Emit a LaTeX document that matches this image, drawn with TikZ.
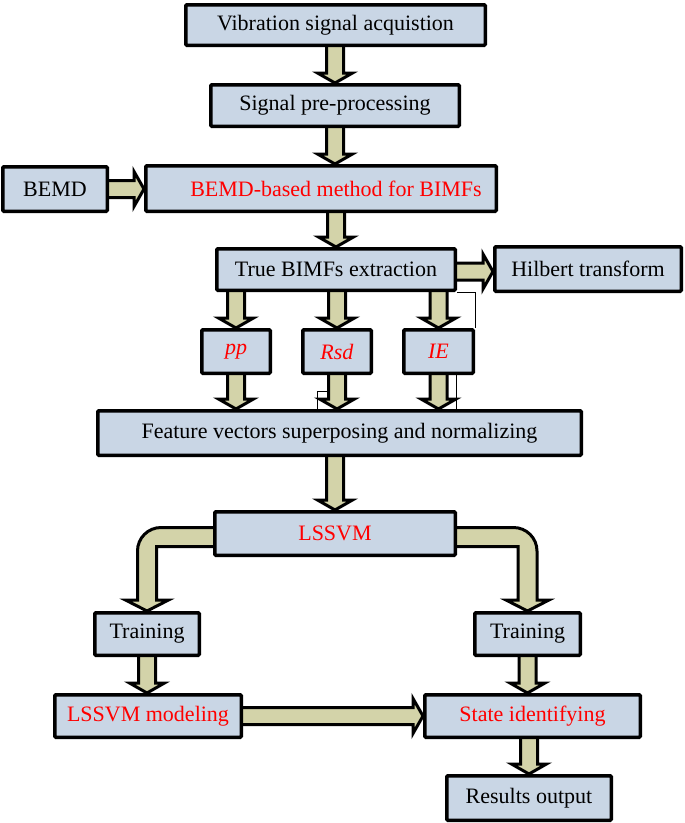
\documentclass[tikz,border=0pt]{standalone}
\usepackage{fontspec}
\setmainfont{Liberation Serif}
\usetikzlibrary{calc}
\definecolor{boxfill}{RGB}{201,214,229}
\definecolor{arrfill}{RGB}{211,211,169}
\pgfdeclarelayer{bg}
\pgfsetlayers{bg,main}
\tikzset{
  box/.style 2 args={draw=black, line width=3.5pt, fill=boxfill, inner sep=0pt,
    rounded corners=1pt, minimum width=#1pt, minimum height=#2pt,
    font=\fontsize{22}{26}\selectfont},
  redtext/.style={text=red},
  blockarrow/.style={draw=black, line width=3pt, fill=arrfill, line join=miter},
  thinline/.style={draw=black, line width=0.9pt}
}
% vertical block arrow: from node, to node, x reference
\newcommand{\varr}[3]{%
  \path let \p1=(#1.south), \p2=(#2.north), \p3=(#3) in
   [blockarrow] ({\x3-8.5pt},{\y1+2pt}) -- ({\x3-8.5pt},{\y2+10pt}) -- ({\x3-17.5pt},{\y2+10pt})
   -- (\x3,\y2) -- ({\x3+17.5pt},{\y2+10pt}) -- ({\x3+8.5pt},{\y2+10pt}) -- ({\x3+8.5pt},{\y1+2pt}) -- cycle;}
% horizontal block arrow: from node, to node, y reference
\newcommand{\harr}[3]{%
  \path let \p1=(#1.east), \p2=(#2.west), \p3=(#3) in
   [blockarrow] ({\x1-2pt},{\y3+8.5pt}) -- ({\x2-10pt},{\y3+8.5pt}) -- ({\x2-10pt},{\y3+17.5pt})
   -- (\x2,\y3) -- ({\x2-10pt},{\y3-17.5pt}) -- ({\x2-10pt},{\y3-8.5pt}) -- ({\x1-2pt},{\y3-8.5pt}) -- cycle;}

\begin{document}
\begin{tikzpicture}[x=1pt,y=-1pt]
\useasboundingbox (0,0) rectangle (685,823);

\node[box={299.5}{40.5}] (vib) at (335.5,25) {Vibration signal acquistion};
\node[box={248.5}{41.5}] (sig) at (335,105.5) {Signal pre-processing};
\node[box={104.5}{44.5}] (bemd) at (55,189) {BEMD};
\node[box={350.5}{45.5}, redtext] (bemdm) at (321,188.5) {\hspace*{30pt}BEMD-based method for BIMFs};
\node[box={238.5}{41.5}] (tbimf) at (336,269.5) {True BIMFs extraction};
\node[box={186.5}{44.5}] (hilb) at (588,269) {Hilbert transform};
\node[box={68.5}{43.5}, redtext] (pp) at (236,351.5) {\textit{pp}};
\node[box={68.5}{43.5}, redtext] (rsd) at (337,351.5) {\textit{Rsd}};
\node[box={69.5}{43.5}, redtext] (ie) at (438.5,351.5) {\textit{IE}};
\node[box={483.5}{44.5}] (feat) at (339.5,433) {Feature vectors superposing and normalizing};
\node[box={240.5}{43.5}, redtext] (lssvm) at (335,533.5) {LSSVM};
\node[box={104.5}{42.5}] (trainL) at (147,634) {Training};
\node[box={105.5}{42.5}] (trainR) at (527.5,634) {Training};
\node[box={186.5}{42.5}, redtext] (model) at (148,716) {LSSVM modeling};
\node[box={215.5}{42.5}, redtext] (state) at (532.5,716) {State identifying};
\node[box={164.5}{44.5}] (results) at (529,798) {Results output};

\begin{pgfonlayer}{bg}
\varr{vib}{sig}{sig.north}
\varr{sig}{bemdm}{sig.south}
\varr{bemdm}{tbimf}{tbimf.north}
\varr{tbimf}{pp}{pp.north}
\varr{tbimf}{rsd}{rsd.north}
\varr{tbimf}{ie}{ie.north}
\varr{pp}{feat}{pp.south}
\varr{rsd}{feat}{rsd.south}
\varr{ie}{feat}{ie.south}
\varr{feat}{lssvm}{lssvm.north}
\varr{trainL}{model}{trainL.south}
\varr{trainR}{state}{trainR.south}
\varr{state}{results}{results.north}
\harr{bemd}{bemdm}{bemd.east}
\harr{tbimf}{hilb}{$(tbimf.east)+(0,2)$}
\harr{model}{state}{model.east}
% curved arrows from LSSVM to the two Training boxes
\path let \p1=(lssvm.west), \p2=(trainL.north) in [blockarrow]
  ({\x1+2pt},{\y1+6pt}) -- ({\x2+14pt},{\y1+6pt})
  arc[start angle=90,end angle=180,radius=23.5pt]
  -- ({\x2-9.5pt},{\y2+11pt}) -- ({\x2-21.5pt},{\y2+11pt}) -- (\x2,\y2)
  -- ({\x2+21.5pt},{\y2+11pt}) -- ({\x2+9.5pt},{\y2+11pt})
  -- ({\x2+9.5pt},{\y1-13pt}) -- ({\x1+2pt},{\y1-13pt}) -- cycle;
\path let \p1=(lssvm.east), \p2=(trainR.north) in [blockarrow]
  ({\x1-2pt},{\y1+6pt}) -- ({\x2-14pt},{\y1+6pt})
  arc[start angle=90,end angle=0,radius=23.5pt]
  -- ({\x2+9.5pt},{\y2+11pt}) -- ({\x2+21.5pt},{\y2+11pt}) -- (\x2,\y2)
  -- ({\x2-21.5pt},{\y2+11pt}) -- ({\x2-9.5pt},{\y2+11pt})
  -- ({\x2-9.5pt},{\y1-13pt}) -- ({\x1-2pt},{\y1-13pt}) -- cycle;
\end{pgfonlayer}

% thin stray lines
\draw[thinline] (tbimf.south east) -| (ie.north east);
\coordinate (t1) at (456,375);
\coordinate (t2) at (456,409);
\draw[thinline] (t1) -- (t2);
\coordinate (t3) at (327,391);
\coordinate (t4) at (317,391);
\coordinate (t5) at (317,409);
\draw[thinline] (t3) -- (t4) -- (t5);
\end{tikzpicture}
\end{document}
